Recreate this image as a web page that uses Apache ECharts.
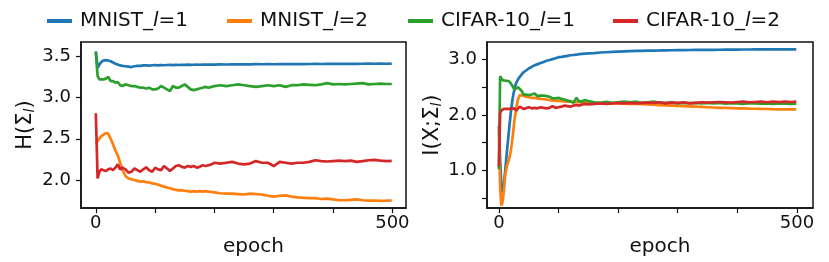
<!DOCTYPE html>
<html><head><meta charset="utf-8">
<script src="https://cdn.jsdelivr.net/npm/echarts@6/dist/echarts.min.js"></script>
<style>html,body{margin:0;padding:0;background:#fff}#c{width:829px;height:262px}</style>
</head><body><div id="c"></div>
<script>
const seriesNames = ['MNIST_l=1', 'MNIST_l=2', 'CIFAR-10_l=1', 'CIFAR-10_l=2'];
const colors = ['#1f77b4', '#ff7f0e', '#2ca02c', '#d62728'];

// Left panel: H(Sigma_l)
const epochsH = [0,3,6,9,13,17,21,25,29,33,37,41,45,50,55,60,65,70,75,80,85,90,95,100,105,110,115,120,125,130,135,140,145,150,155,160,165,170,175,180,185,190,195,200,210,220,230,240,250,260,270,280,290,300,310,320,330,340,350,360,370,380,390,400,410,420,430,440,450,460,470,480,490,499];
const hMnist1 = [3.56,3.36,3.40,3.43,3.45,3.455,3.45,3.44,3.425,3.41,3.40,3.39,3.385,3.38,3.375,3.37,3.38,3.385,3.385,3.39,3.39,3.388,3.392,3.393,3.39,3.395,3.392,3.395,3.396,3.394,3.397,3.395,3.398,3.396,3.399,3.397,3.398,3.400,3.398,3.400,3.401,3.399,3.401,3.400,3.402,3.401,3.403,3.402,3.404,3.403,3.405,3.404,3.405,3.404,3.406,3.405,3.406,3.407,3.406,3.407,3.408,3.407,3.408,3.409,3.408,3.409,3.410,3.409,3.410,3.411,3.410,3.411,3.410,3.411];
const hMnist2 = [2.44,2.46,2.50,2.53,2.55,2.57,2.56,2.50,2.43,2.36,2.30,2.21,2.12,2.05,2.02,2.01,2.00,1.99,1.98,1.985,1.975,1.97,1.96,1.955,1.945,1.93,1.92,1.91,1.90,1.89,1.88,1.875,1.875,1.87,1.865,1.86,1.865,1.86,1.865,1.86,1.865,1.86,1.855,1.85,1.84,1.835,1.835,1.83,1.825,1.835,1.83,1.825,1.81,1.80,1.81,1.815,1.80,1.79,1.785,1.78,1.78,1.77,1.775,1.765,1.755,1.755,1.76,1.765,1.755,1.75,1.752,1.748,1.75,1.752];
const hCifar1 = [3.55,3.26,3.22,3.21,3.22,3.23,3.25,3.20,3.20,3.18,3.19,3.15,3.14,3.16,3.15,3.14,3.14,3.13,3.12,3.12,3.11,3.12,3.10,3.10,3.11,3.14,3.12,3.10,3.08,3.14,3.12,3.12,3.14,3.16,3.13,3.10,3.09,3.10,3.11,3.12,3.13,3.12,3.13,3.14,3.15,3.14,3.15,3.16,3.15,3.14,3.13,3.14,3.15,3.14,3.15,3.13,3.15,3.15,3.16,3.155,3.15,3.16,3.175,3.16,3.165,3.16,3.165,3.17,3.175,3.16,3.165,3.17,3.165,3.165];
const hCifar2 = [2.81,2.02,2.10,2.13,2.12,2.11,2.13,2.14,2.12,2.15,2.19,2.13,2.15,2.13,2.09,2.10,2.14,2.12,2.10,2.13,2.155,2.12,2.10,2.15,2.13,2.12,2.17,2.14,2.11,2.14,2.17,2.18,2.16,2.15,2.17,2.16,2.17,2.15,2.16,2.18,2.17,2.18,2.19,2.21,2.20,2.21,2.22,2.20,2.19,2.20,2.23,2.21,2.21,2.17,2.22,2.21,2.20,2.21,2.21,2.22,2.24,2.23,2.225,2.23,2.235,2.23,2.235,2.22,2.23,2.24,2.245,2.235,2.23,2.232];

// Right panel: I(X;Sigma_l)
const epochsI = [0,2,4,6,8,11,14,17,20,23,26,29,32,35,38,41,45,50,55,60,65,70,75,80,85,90,95,100,105,110,115,120,125,130,135,140,145,150,160,170,180,190,200,210,220,230,240,250,260,270,280,290,300,310,320,330,340,350,360,370,380,390,400,410,420,430,440,450,460,470,480,490,499];
const iMnist1 = [1.80,1.20,0.75,0.60,0.70,1.05,1.40,1.73,2.05,2.30,2.47,2.58,2.64,2.69,2.73,2.77,2.80,2.84,2.87,2.90,2.92,2.94,2.96,2.98,2.995,3.01,3.025,3.045,3.05,3.06,3.07,3.08,3.085,3.09,3.10,3.105,3.11,3.115,3.12,3.13,3.135,3.14,3.145,3.15,3.155,3.158,3.16,3.163,3.165,3.167,3.17,3.171,3.173,3.174,3.175,3.176,3.177,3.178,3.179,3.18,3.181,3.182,3.183,3.184,3.184,3.185,3.185,3.186,3.186,3.187,3.187,3.188,3.188];
const iMnist2 = [1.75,0.70,0.36,0.42,0.60,0.95,1.10,1.20,1.35,1.60,1.90,2.12,2.28,2.36,2.38,2.35,2.33,2.32,2.31,2.31,2.30,2.29,2.285,2.28,2.27,2.265,2.26,2.255,2.25,2.245,2.24,2.24,2.235,2.23,2.23,2.225,2.225,2.22,2.22,2.215,2.215,2.21,2.21,2.205,2.20,2.20,2.195,2.19,2.185,2.18,2.175,2.17,2.165,2.16,2.155,2.15,2.145,2.14,2.135,2.13,2.128,2.125,2.12,2.118,2.115,2.113,2.11,2.108,2.105,2.103,2.10,2.10,2.10];
const iCifar1 = [1.02,2.70,2.68,2.63,2.62,2.62,2.62,2.61,2.57,2.52,2.46,2.47,2.50,2.51,2.44,2.37,2.37,2.36,2.37,2.39,2.34,2.35,2.35,2.34,2.33,2.30,2.30,2.31,2.29,2.28,2.26,2.25,2.22,2.31,2.24,2.25,2.27,2.25,2.23,2.22,2.24,2.22,2.23,2.24,2.23,2.24,2.22,2.23,2.24,2.225,2.22,2.23,2.21,2.22,2.215,2.22,2.21,2.22,2.21,2.22,2.205,2.215,2.21,2.20,2.215,2.21,2.205,2.21,2.20,2.21,2.205,2.20,2.205];
const iCifar2 = [1.07,2.03,2.08,2.10,2.11,2.10,2.11,2.10,2.11,2.09,2.12,2.08,2.10,2.15,2.13,2.11,2.12,2.14,2.12,2.13,2.12,2.14,2.13,2.12,2.13,2.16,2.13,2.14,2.15,2.17,2.16,2.15,2.17,2.18,2.17,2.19,2.20,2.19,2.20,2.21,2.20,2.21,2.22,2.21,2.22,2.21,2.22,2.225,2.22,2.23,2.21,2.225,2.22,2.23,2.21,2.22,2.23,2.225,2.23,2.235,2.23,2.225,2.235,2.24,2.23,2.235,2.24,2.23,2.24,2.235,2.24,2.235,2.24];

const xTicks = [0, 100, 200, 300, 400, 500];
const xLabels = [0, 500];
const hTicks = [2.0, 2.5, 3.0, 3.5];
const iTicks = [0.5, 1.0, 1.5, 2.0, 2.5, 3.0];
const iLabels = [1.0, 2.0, 3.0];

const FONT = 'DejaVu Sans';
const pair = (xs, ys) => xs.map((x, i) => [x, ys[i]]);
const hData = [hMnist1, hMnist2, hCifar1, hCifar2];
const iData = [iMnist1, iMnist2, iCifar1, iCifar2];

function xAxis(gi, min, max) {
  return {
    type: 'value', gridIndex: gi, min: min, max: max,
    name: 'epoch', nameLocation: 'middle', nameGap: 8,
    nameTextStyle: { fontFamily: FONT, fontSize: 20, color: '#111', padding: [0, 0, 0, 20], verticalAlign: 'top' },
    axisLine: { show: true, onZero: false, lineStyle: { color: '#111', width: 1.5 } },
    axisTick: { show: true, length: 5, customValues: xTicks, lineStyle: { color: '#111', width: 1.2 } },
    axisLabel: { customValues: xLabels, fontFamily: FONT, fontSize: 18, color: '#111', margin: 6, formatter: v => String(v) },
    splitLine: { show: false }
  };
}
function yAxis(gi, min, max, ticks, labels, nm, gap) {
  return {
    type: 'value', gridIndex: gi, min: min, max: max,
    name: nm, nameLocation: 'middle', nameGap: gap, nameRotate: 90,
    nameTextStyle: { fontFamily: FONT, fontSize: 21, color: '#111',
      rich: { a: { fontFamily: FONT, fontSize: 21, color: '#111' },
              s: { fontFamily: FONT, fontSize: 14, fontStyle: 'italic', color: '#111', padding: [9, 0, 0, 0] } } },
    axisLine: { show: true, onZero: false, lineStyle: { color: '#111', width: 1.5 } },
    axisTick: { show: true, length: 5, customValues: ticks, lineStyle: { color: '#111', width: 1.2 } },
    axisLabel: { customValues: labels, fontFamily: FONT, fontSize: 18, color: '#111', margin: 10, formatter: v => v.toFixed(1) },
    splitLine: { show: false }
  };
}

const series = [];
seriesNames.forEach((n, k) => {
  series.push({ name: n, type: 'line', xAxisIndex: 0, yAxisIndex: 0, data: pair(epochsH, hData[k]),
    symbol: 'none', lineStyle: { width: 2.7, color: colors[k] }, itemStyle: { color: colors[k] }, z: 2 + k, animation: false });
});
seriesNames.forEach((n, k) => {
  series.push({ name: n, type: 'line', xAxisIndex: 1, yAxisIndex: 1, data: pair(epochsI, iData[k]),
    symbol: 'none', lineStyle: { width: 2.7, color: colors[k] }, itemStyle: { color: colors[k] }, z: 2 + k, animation: false });
});

const legendLeft = [42, 222, 403, 608];
const legendRich = { t: { fontFamily: FONT, fontSize: 20, color: '#111' },
                     i: { fontFamily: FONT, fontSize: 20, fontStyle: 'italic', color: '#111' } };
const legends = seriesNames.map((n, k) => ({
  data: [n], top: 6, left: legendLeft[k], itemGap: 0, itemWidth: 25, itemHeight: 4,
  icon: 'rect', itemStyle: { borderWidth: 0 },
  formatter: s => { const p = s.split('_l'); return '{t|' + p[0] + '_}{i|l}{t|' + p[1] + '}'; },
  textStyle: { fontFamily: FONT, fontSize: 20, color: '#111', padding: [0, 0, 0, 3], rich: legendRich }
}));

const chart = echarts.init(document.getElementById('c'), null, { renderer: 'canvas' });
chart.setOption({
  animation: false,
  backgroundColor: '#fff',
  legend: legends,
  grid: [
    { left: 81, top: 42, width: 325, height: 182, show: true, borderColor: '#111', borderWidth: 1.5, containLabel: false },
    { left: 487, top: 42, width: 326, height: 182, show: true, borderColor: '#111', borderWidth: 1.5, containLabel: false }
  ],
  xAxis: [xAxis(0, -25, 523), xAxis(1, -20, 527)],
  yAxis: [
    yAxis(0, 1.66, 3.674, hTicks, hTicks, '{a|H(Σ}{s|l}{a|)}', 44),
    yAxis(1, 0.316, 3.32, iTicks, iLabels, '{a|I(X;Σ}{s|l}{a|)}', 40)
  ],
  series: series
});
</script></body></html>
